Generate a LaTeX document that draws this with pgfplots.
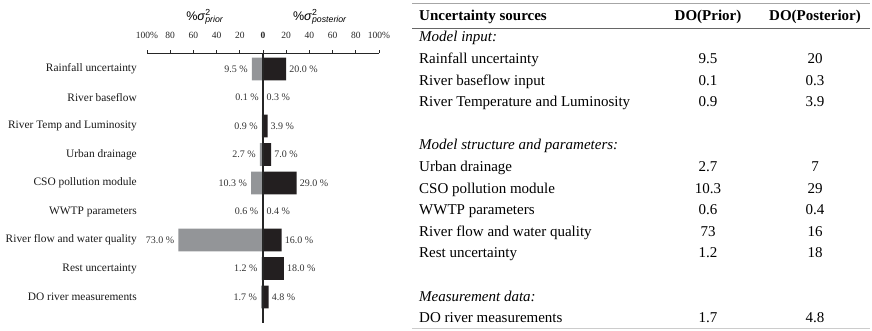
\documentclass[border=0pt]{standalone}
\usepackage{pgfplots}
\pgfplotsset{compat=1.18}
\usepackage{pgfplotstable}
\usepackage{fontspec}
\setmainfont{Liberation Serif}
\newfontfamily\arialfont{Liberation Sans}

\definecolor{priorgray}{HTML}{939598}
\definecolor{postblack}{HTML}{231F20}

% Share of DO variance per uncertainty source (percent)
\pgfplotstableread{
idx prior post
1   9.5   20.0
2   0.1   0.3
3   0.9   3.9
4   2.7   7.0
5   10.3  29.0
6   0.6   0.4
7   73.0  16.0
8   1.2   18.0
9   1.7   4.8
}\sourcedata

\newcommand\sigmalabel[1]{{\arialfont\fontsize{12.5bp}{14bp}\selectfont
  \%\textit{σ}\rlap{\textsuperscript{2}}\textsubscript{\textit{#1}}}}
\newcommand\tabfont{\fontsize{15bp}{18bp}\selectfont}
\newcommand\valfmt{\pgfmathprintnumber[fixed,fixed zerofill,precision=1]{\pgfplotspointmeta}\ \%}

\begin{document}
\begin{tikzpicture}[x=1bp,y=1bp]
\useasboundingbox (0,0) rectangle (872,330);

\begin{axis}[
  at={(147bp,277bp)}, anchor=north west,
  scale only axis, width=232bp, height=270bp,
  xmin=-100, xmax=100, ymin=0.439, ymax=9.912, y dir=reverse,
  axis x line*=top, axis y line*=left,
  y axis line style={draw=none},
  x axis line style={-, line width=0.8bp, black!85},
  xtick={-100,-80,...,100},
  xticklabels={100\%,80,60,40,20,\textbf{0},20,40,60,80,100\%},
  xtick align=outside, major tick length=3bp,
  xtick style={line width=0.8bp, black!85},
  xticklabel style={font=\fontsize{9.5bp}{11bp}\selectfont, text=black!85, yshift=8bp},
  ytick={1,...,9},
  yticklabels={Rainfall uncertainty,River baseflow,River Temp and Luminosity,
    Urban drainage,CSO pollution module,WWTP parameters,
    River flow and water quality,Rest uncertainty,DO river measurements},
  ytick style={draw=none},
  yticklabel style={font=\fontsize{11.4bp}{13bp}\selectfont, text=black!90,
    anchor=east, inner sep=0pt, xshift=-10bp},
  /pgf/number format/assume math mode=true,
  clip=false,
  nodes near coords style={font=\fontsize{10bp}{11bp}\selectfont,
    text=black!80, inner sep=0pt},
]
\addplot[xbar, bar shift=0pt, bar width=22.6bp, fill=priorgray, draw=none,
  point meta=explicit, nodes near coords=\valfmt,
  nodes near coords style={anchor=east, xshift=-4bp}]
  table[x expr=-\thisrow{prior}, y=idx, meta=prior]{\sourcedata};
\addplot[xbar, bar shift=0pt, bar width=22.6bp, fill=postblack, draw=none,
  point meta=explicit, nodes near coords=\valfmt,
  nodes near coords style={anchor=west, xshift=3bp}]
  table[x=post, y=idx, meta=post]{\sourcedata};
\draw[line width=1.8bp, black!85] (axis cs:0,0.439) -- (axis cs:0,9.912);
\end{axis}

\node at (205,313) {\sigmalabel{prior}};
\node at (320,313) {\sigmalabel{posterior}};

% Summary table
\draw[black!35, line width=0.8bp] (412,327) -- (870,327);
\draw[black!60, line width=0.8bp] (412,302) -- (870,302);
\draw[black!20, line width=0.8bp] (412,2) -- (870,2);

\node[anchor=base west, inner sep=0pt] at (419,309.7) {\tabfont\bfseries Uncertainty sources};
\node[anchor=base, inner sep=0pt] at (708,309.7) {\tabfont\bfseries DO(Prior)};
\node[anchor=base, inner sep=0pt] at (815,309.7) {\tabfont\bfseries DO(Posterior)};

\foreach \r/\lab/\p/\q in {
   0/\textit{Model input:}//,
   1/Rainfall uncertainty/9.5/20,
   2/River baseflow input/0.1/0.3,
   3/River Temperature and Luminosity/0.9/3.9,
   5/\textit{Model structure and parameters:}//,
   6/Urban drainage/2.7/7,
   7/CSO pollution module/10.3/29,
   8/WWTP parameters/0.6/0.4,
   9/River flow and water quality/73/16,
  10/Rest uncertainty/1.2/18,
  12/\textit{Measurement data:}//,
  13/DO river measurements/1.7/4.8} {
  \pgfmathsetmacro\yb{330-(41.8+21.6*\r)}
  \node[anchor=base west, inner sep=0pt] at (419,\yb) {\tabfont\lab};
  \node[anchor=base, inner sep=0pt] at (708,\yb) {\tabfont\p};
  \node[anchor=base, inner sep=0pt] at (815,\yb) {\tabfont\q};
}
\end{tikzpicture}
\end{document}
